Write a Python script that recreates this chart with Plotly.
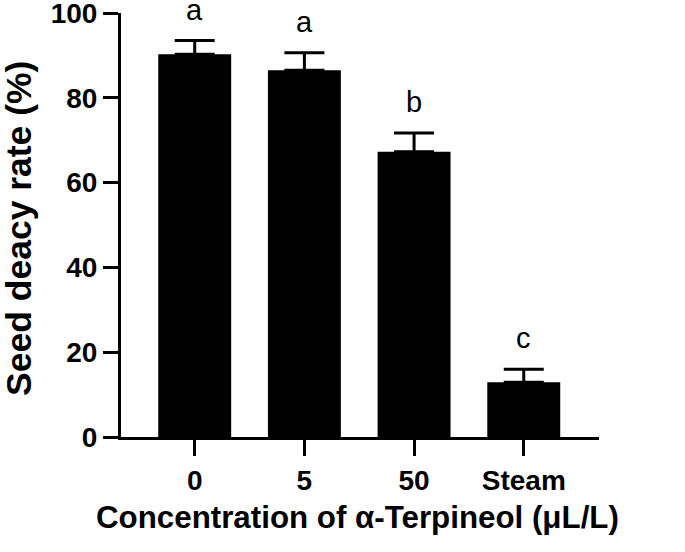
import plotly.graph_objects as go

categories = ["0", "5", "50", "Steam"]
values = [90.3, 86.5, 67.3, 12.9]
errors = [3.2, 4.1, 4.4, 3.1]
letters = ["a", "a", "b", "c"]
x_title = "Concentration of α-Terpineol (μL/L)"
y_title = "Seed deacy rate (%)"

FONT = "Arial, Liberation Sans, Helvetica, sans-serif"

fig = go.Figure()
fig.add_trace(go.Bar(
    x=list(range(len(categories))), y=values,
    width=0.665,
    marker=dict(color="black", line=dict(width=0)),
    error_y=dict(type="data", array=errors, arrayminus=[0]*len(errors), symmetric=False,
                 color="black", thickness=3, width=20),
))

for i, (v, e, t) in enumerate(zip(values, errors, letters)):
    fig.add_annotation(x=i, y=v + e, text=t, showarrow=False, yanchor="middle",
                       yshift=31, font=dict(family=FONT, size=29, color="black"))

# axis titles as annotations for exact placement
fig.add_annotation(xref="paper", yref="paper", x=0, y=0.5, text=f"<b>{y_title}</b>",
                   textangle=-90, showarrow=False, xanchor="center", yanchor="middle",
                   xshift=-102, yshift=-4,
                   font=dict(family=FONT, size=35.5, color="black"))
fig.add_annotation(xref="paper", yref="paper", x=0.5, y=0, text=f"<b>{x_title}</b>",
                   showarrow=False, xanchor="center", yanchor="middle",
                   xshift=-3, yshift=-80,
                   font=dict(family=FONT, size=31.3, color="black"))

fig.update_layout(
    width=685, height=552,
    margin=dict(l=121, r=86, t=13, b=115),
    plot_bgcolor="white", paper_bgcolor="white",
    showlegend=False,
    font=dict(family=FONT, color="black"),
    xaxis=dict(
        range=[-0.672, 3.686], automargin=False,
        tickmode="array", tickvals=list(range(len(categories))), ticktext=categories,
        showline=True, linecolor="black", linewidth=3,
        ticks="outside", ticklen=16, tickwidth=3, tickcolor="black",
        showgrid=False, zeroline=False,
        tickfont=dict(family=FONT, size=28, color="black", weight="bold"),
    ),
    yaxis=dict(
        range=[0, 100], tickvals=[0, 20, 40, 60, 80, 100], automargin=False,
        showline=True, linecolor="black", linewidth=3,
        ticks="outside", ticklen=15, tickwidth=3, tickcolor="black",
        showgrid=False, zeroline=False, ticklabeloverflow="allow",
        tickfont=dict(family=FONT, size=28, color="black", weight="bold"),
    ),
)

fig.write_html("out.html", config={"displayModeBar": False},
               post_script="document.body.style.margin='0px';")
